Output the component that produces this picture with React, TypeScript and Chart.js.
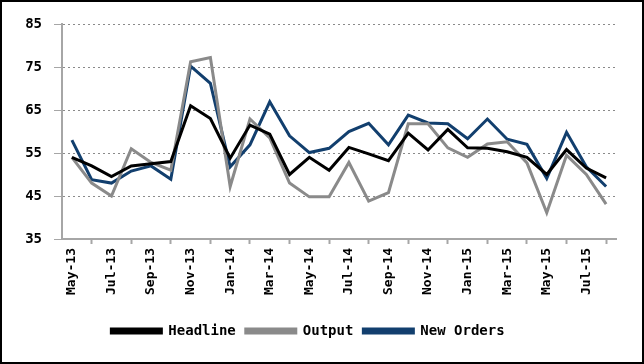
import React, { useEffect, useRef } from "react";
import { Chart, registerables } from "chart.js";

Chart.register(...registerables);

const categories = [
  "May-13", "Jun-13", "Jul-13", "Aug-13", "Sep-13", "Oct-13", "Nov-13", "Dec-13",
  "Jan-14", "Feb-14", "Mar-14", "Apr-14", "May-14", "Jun-14", "Jul-14", "Aug-14",
  "Sep-14", "Oct-14", "Nov-14", "Dec-14", "Jan-15", "Feb-15", "Mar-15", "Apr-15",
  "May-15", "Jun-15", "Jul-15", "Aug-15",
];

const headline = [
  54, 52, 49.5, 52, 52.5, 53, 66, 63,
  53.8, 61.5, 59.4, 50, 54, 51, 56.3, 54.8,
  53.2, 59.6, 55.7, 60.5, 56.2, 56.1, 55.3, 54,
  50, 55.8, 51.5, 49.2,
];

const output = [
  54, 48, 45, 56, 52.8, 51, 76.2, 77.2,
  47.2, 62.9, 58.5, 48, 44.8, 44.8, 52.8, 43.8,
  45.8, 61.8, 61.8, 56.2, 54, 57.1, 57.6, 52.7,
  41.1, 54.5, 50, 43.1,
];

const newOrders = [
  58, 48.8, 48, 50.8, 52, 48.9, 75.2, 71.2,
  51.8, 56.9, 66.9, 59, 55.1, 56.1, 60, 61.9,
  56.9, 63.8, 62, 61.8, 58.3, 62.9, 58.2, 57,
  49.1, 59.8, 51.8, 47.2,
];

const yTicks = [35, 45, 55, 65, 75, 85];

const FONT = "'DejaVu Sans Mono', monospace";

export default function App() {
  const ref = useRef<HTMLCanvasElement | null>(null);

  useEffect(() => {
    if (!ref.current) return;
    const borderPlugin = {
      id: "outerBorder",
      afterDraw(chart: any) {
        const c = chart.ctx;
        c.save();
        c.strokeStyle = "#000";
        c.lineWidth = 2;
        c.strokeRect(1, 1, chart.width - 2, chart.height - 2);
        c.restore();
      },
    };
    const chart = new Chart(ref.current, {
      type: "line",
      data: {
        labels: categories,
        datasets: [
          { label: "Headline", data: headline, borderColor: "#000000", backgroundColor: "#000000" },
          { label: "Output", data: output, borderColor: "#8a8a8a", backgroundColor: "#8a8a8a" },
          { label: "New Orders", data: newOrders, borderColor: "#123f6e", backgroundColor: "#123f6e" },
        ],
      },
      options: {
        animation: false,
        responsive: false,
        maintainAspectRatio: false,
        layout: { padding: { left: 0, right: 28, top: 24, bottom: 16 } },
        elements: {
          line: { borderWidth: 3, tension: 0 },
          point: { radius: 0, hoverRadius: 0 },
        },
        plugins: {
          legend: {
            position: "bottom",
            labels: {
              boxWidth: 50,
              boxHeight: 4,
              padding: 10,
              color: "#000",
              font: { family: FONT, size: 14, weight: "bold" },
            },
          },
          tooltip: { enabled: false },
        },
        scales: {
          x: {
            type: "category",
            offset: true,
            afterFit(scale: any) {
              scale.height = 75;
            },
            grid: {
              offset: true,
              drawOnChartArea: false,
              drawTicks: true,
              tickLength: 5,
              tickColor: "#a6a6a6",
              tickWidth: 2,
            },
            border: { display: true, color: "#a6a6a6", width: 2 },
            ticks: {
              autoSkip: false,
              minRotation: 90,
              maxRotation: 90,
              padding: 4,
              color: "#000",
              font: { family: FONT, size: 13, weight: "bold" },
              callback(_v: any, i: number) {
                return i % 2 === 0 ? categories[i] : null;
              },
            },
          },
          y: {
            min: 35,
            max: 85,
            afterFit(scale: any) {
              scale.width = 62;
            },
            afterBuildTicks(scale: any) {
              scale.ticks = yTicks.map((v) => ({ value: v }));
            },
            grid: {
              color: "#8a8a8a",
              lineWidth: 1,
              drawTicks: true,
              tickLength: 8,
              tickBorderDash: [],
              tickColor: "#a6a6a6",
              tickWidth: 1,
            },
            border: { display: true, color: "#a6a6a6", width: 2, dash: [2, 3] },
            ticks: {
              padding: 12,
              color: "#000",
              font: { family: FONT, size: 14, weight: "bold" },
            },
          },
        },
      },
      plugins: [borderPlugin],
    } as any);
    return () => chart.destroy();
  }, []);

  return (
    <div style={{ position: "fixed", left: 0, top: 0, width: 644, height: 364, background: "#fff" }}>
      <canvas ref={ref} width={644} height={364} style={{ display: "block", width: 644, height: 364 }} />
    </div>
  );
}
